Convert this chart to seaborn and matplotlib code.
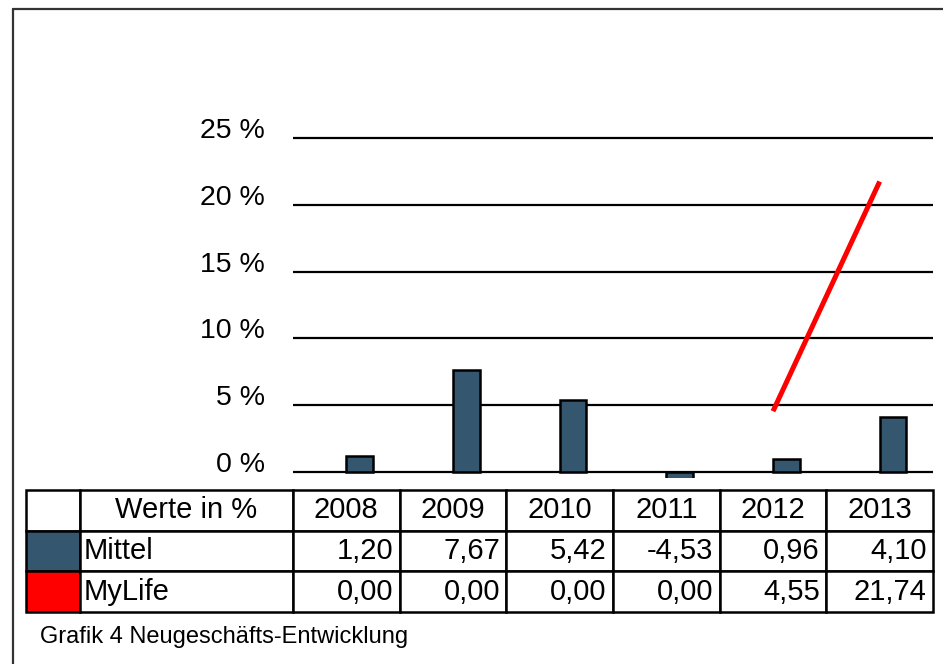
import numpy as np
import matplotlib
matplotlib.use("Agg")
import matplotlib.pyplot as plt
import seaborn as sns
from matplotlib.lines import Line2D

# data
years = ["2008", "2009", "2010", "2011", "2012", "2013"]
mittel = [1.20, 7.67, 5.42, -4.53, 0.96, 4.10]
mylife = [0.00, 0.00, 0.00, 0.00, 4.55, 21.74]
table_head = "Werte in %"
series_names = ["Mittel", "MyLife"]
caption = "Grafik 4 Neugeschäfts-Entwicklung"

bar_color = "#34576f"
line_color = "#ff0000"

sns.set_style("white")
plt.rcParams["font.family"] = ["Liberation Sans", "DejaVu Sans"]
plt.rcParams["text.color"] = "black"
plt.rcParams["ytick.color"] = "black"

W, H = 943, 664
fig = plt.figure(figsize=(W / 100, H / 100), dpi=100)

# plot area in pixel coords of the reference
x0, x1 = 293, 933
y_top, y_bot = 135.3, 478
ax = fig.add_axes([x0 / W, 1 - y_bot / H, (x1 - x0) / W, (y_bot - y_top) / H])

sns.barplot(x=years, y=mittel, color=bar_color, width=0.25, edgecolor="black",
            linewidth=1.8, saturation=1, ax=ax, zorder=2)
# bars sit right of the category centre (line points are at the centre)
for p in ax.patches:
    p.set_x(p.get_x() + p.get_width() / 2)

pos = np.arange(len(years))
ml = np.array(mylife, dtype=float)
ml[ml == 0] = np.nan
sns.lineplot(x=pos, y=ml, color=line_color, linewidth=3.6, sort=False, ax=ax,
             zorder=3, solid_capstyle="butt")

ax.set_xlim(-0.5, len(years) - 0.5)
ax.set_ylim(-0.45, 25.2)
ax.set_yticks(range(0, 30, 5))
ax.set_yticklabels([f"{v} %" for v in range(0, 30, 5)], fontsize=20.5, va="baseline")
ax.set_xticks([])
ax.set_xlabel("")
ax.set_ylabel("")
ax.tick_params(axis="y", length=0, pad=20)
ax.grid(axis="y", color="black", linewidth=1.6)
ax.set_axisbelow(True)
for s in ax.spines.values():
    s.set_visible(False)

# data table under the chart
tax = fig.add_axes([26 / W, 1 - 612 / H, (933 - 26) / W, 122 / H])
tax.axis("off")
fmt = lambda v: f"{v:.2f}".replace(".", ",")
cells = [["", table_head] + years,
         ["", series_names[0]] + [fmt(v) for v in mittel],
         ["", series_names[1]] + [fmt(v) for v in mylife]]
cw = [54, 213] + [106.7] * len(years)
cw = [c / sum(cw) for c in cw]
tbl = tax.table(cellText=cells, colWidths=cw, bbox=[0, 0, 1, 1])
tbl.auto_set_font_size(False)
tbl.set_fontsize(21)
for (r, c), cell in tbl.get_celld().items():
    cell.set_linewidth(1.8)
    cell.set_edgecolor("black")
    if c == 0:
        if r == 1:
            cell.set_facecolor(bar_color)
        elif r == 2:
            cell.set_facecolor(line_color)
    if r == 0:
        loc, pad = "center", 0.1
    elif c == 1:
        loc, pad = "left", 0.015
    else:
        loc, pad = "right", 0.06
    cell._loc = loc
    cell.PAD = pad
    cell.get_text().set_ha(loc)
    cell.get_text().set_color("black")

fig.text(40 / W, 1 - 637 / H, caption, fontsize=17, va="center", ha="left")

# outer frame (top and left edge)
fig.add_artist(Line2D([13 / W, 1], [1 - 9 / H, 1 - 9 / H], color="#333333", linewidth=1.6))
fig.add_artist(Line2D([13 / W, 13 / W], [0, 1 - 9 / H], color="#333333", linewidth=1.6))

fig.savefig("out.png", dpi=100)
